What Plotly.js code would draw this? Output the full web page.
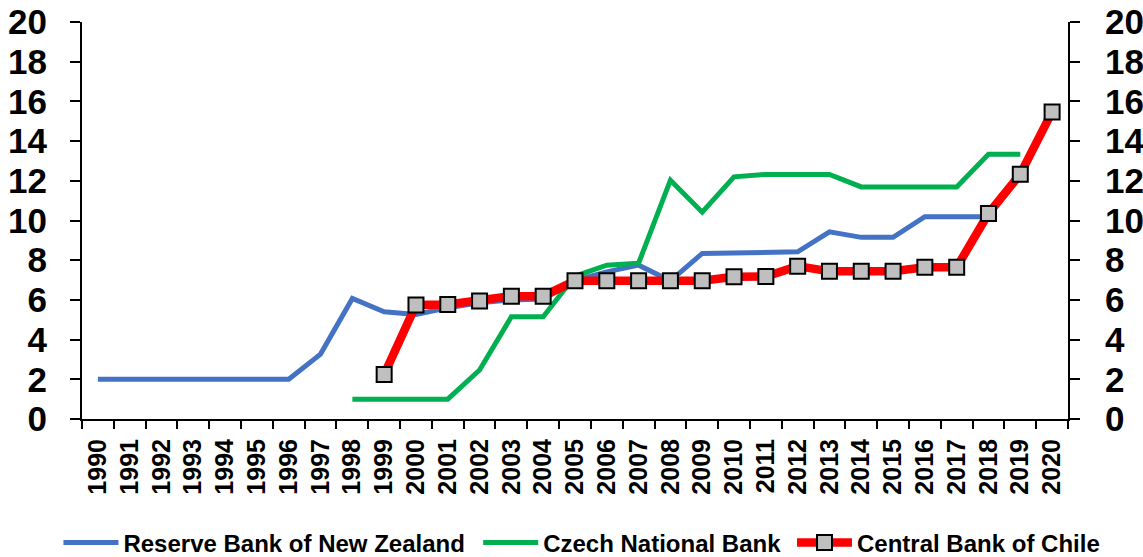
<!DOCTYPE html>
<html>
<head>
<meta charset="utf-8">
<script src="https://cdn.plot.ly/plotly-3.0.1.min.js"></script>
<style>html,body{margin:0;padding:0;background:#fff;}#chart{width:1143px;height:557px;}</style>
</head>
<body>
<div id="chart"></div>
<script>
const years = ["1990","1991","1992","1993","1994","1995","1996","1997","1998","1999","2000","2001","2002","2003","2004","2005","2006","2007","2008","2009","2010","2011","2012","2013","2014","2015","2016","2017","2018","2019","2020"];
const newZealand = [2,2,2,2,2,2,2,3.27,6.07,5.4,5.27,5.6,5.85,6.0,6.05,6.98,7.41,7.75,6.96,8.34,8.37,8.42,8.42,9.43,9.15,9.15,10.19,10.19,10.19,null,null];
const czech = [null,null,null,null,null,null,null,null,1.0,1.0,1.0,1.0,2.47,5.15,5.15,7.2,7.75,7.85,12.03,10.42,12.2,12.32,12.32,12.32,11.69,11.69,11.69,11.69,13.34,13.34,null];
const chile = [null,null,null,null,null,null,null,null,null,2.24,5.74,5.77,5.94,6.19,6.19,6.96,6.96,6.96,6.96,6.96,7.16,7.18,7.7,7.44,7.44,7.44,7.64,7.64,10.35,12.33,15.47];
const seriesNames = ["Reserve Bank of New Zealand","Czech National Bank","Central Bank of Chile"];
const yTicks = [0,2,4,6,8,10,12,14,16,18,20];

const F = "Liberation Sans, Arial, sans-serif";
const traces = [
  {x: years, y: newZealand, name: seriesNames[0], type: "scatter", mode: "lines",
   line: {color: "#4472C4", width: 5}, legend: "legend", hoverinfo: "skip"},
  {x: years, y: czech, name: seriesNames[1], type: "scatter", mode: "lines",
   line: {color: "#00B050", width: 5}, legend: "legend2", hoverinfo: "skip"},
  {x: years, y: chile, name: seriesNames[2], type: "scatter", mode: "lines+markers", yaxis: "y2",
   line: {color: "#FF0000", width: 8.5},
   marker: {symbol: "square", size: 15, color: "#BFBFBF", line: {color: "#000000", width: 2}},
   legend: "legend3", hoverinfo: "skip"}
];
const tickFontY = {family: F, size: 35, weight: "bold", color: "#000"};
const legFont = {family: F, size: 24, weight: "bold", color: "#000"};
const legBase = {orientation: "h", yref: "container", yanchor: "middle", y: 0.0251, xanchor: "left", font: legFont,
  bgcolor: "rgba(0,0,0,0)", borderwidth: 0, itemwidth: 55};
const layout = {
  width: 1143, height: 557,
  margin: {l: 82, r: 75, t: 22, b: 138},
  paper_bgcolor: "#fff", plot_bgcolor: "#fff",
  showlegend: true,
  xaxis: {type: "category", range: [-0.5, 30.5], tickson: "boundaries", ticks: "outside", automargin: false,
    ticklen: 8, tickwidth: 2, tickcolor: "#000", showline: true, linecolor: "#000", linewidth: 2,
    showgrid: false, zeroline: false, tickangle: -90,
    tickfont: {family: F, size: 25, weight: "bold", color: "#000"}, ticklabelstandoff: 8},
  yaxis: {range: [0, 20], tickvals: yTicks, ticks: "outside", ticklen: 10, tickwidth: 2, tickcolor: "#000",
    showline: true, linecolor: "#000", linewidth: 2, showgrid: false, zeroline: false, automargin: false,
    tickfont: tickFontY, ticklabelstandoff: 16},
  yaxis2: {range: [0, 20], tickvals: yTicks, overlaying: "y", side: "right", ticks: "outside", ticklen: 10,
    tickwidth: 2, tickcolor: "#000", showline: true, linecolor: "#000", linewidth: 2, showgrid: false,
    zeroline: false, automargin: false, tickfont: tickFontY, ticklabelstandoff: 18},
  legend: Object.assign({}, legBase, {x: -0.0239}),
  legend2: Object.assign({}, legBase, {x: 0.4018}),
  legend3: Object.assign({}, legBase, {x: 0.7201})
};
Plotly.newPlot("chart", traces, layout, {displayModeBar: false, staticPlot: true});
</script>
</body>
</html>
